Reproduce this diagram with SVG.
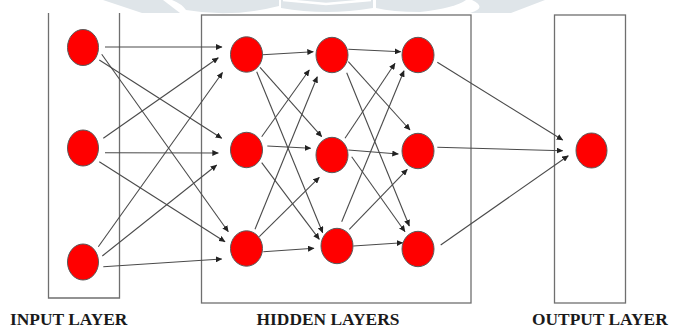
<svg xmlns="http://www.w3.org/2000/svg" width="673" height="329" viewBox="0 0 673 329">
  <style>
    .box { fill: none; stroke: #6f6f6f; stroke-width: 1.3; }
    .node { fill: #ff0000; stroke: #5a5a5a; stroke-width: 1; }
    .edge { fill: none; stroke: #4a4a4a; stroke-width: 1.1; marker-end: url(#arrow); }
    .label { font-family: "Liberation Serif", "Times New Roman", serif; font-weight: bold; font-size: 17.4px; fill: #1a1a1a; }
    .wm { fill: #dfe5e9; }
  </style>
  <defs>
    <marker id="arrow" markerUnits="userSpaceOnUse" markerWidth="7" markerHeight="6" refX="6" refY="3" orient="auto">
      <path d="M0,0 L6.5,3 L0,6 Z" fill="#222"/>
    </marker>
  </defs>

  <rect width="673" height="329" fill="#ffffff"/>

  <!-- faint backdrop emblem along the top edge -->
  <g id="emblem">
    <path class="wm" d="M103,0 H163 L180,13 H142 Z"/>
    <path class="wm" d="M172,0 H279 V6 Q232,18 186,10 Q182,4 172,0 Z"/>
    <path class="wm" d="M281,0 H373 V8 Q326,16 281,8 Z"/>
    <path d="M283,0 L326,4 L371,0" fill="none" stroke="#ffffff" stroke-width="2.5"/>
    <path class="wm" d="M376,0 H466 Q455,8 420,12 Q392,12 376,8 Z"/>
    <path class="wm" d="M472,0 H545 L511,13 H470 Q488,8 472,0 Z"/>
  </g>

  <!-- layer frames -->
  <g id="input-layer-frame">
    <path class="box" d="M48.5,13 V298 H119.5 V13"/>
  </g>
  <g id="hidden-layer-frame">
    <rect class="box" x="201.5" y="15" width="269.5" height="288"/>
  </g>
  <g id="output-layer-frame">
    <rect class="box" x="554.5" y="15" width="71" height="288"/>
  </g>

  <!-- connectors -->
  <g id="connectors">
    <!-- input -> hidden 1 -->
    <line class="edge" x1="105" y1="47" x2="222" y2="47"/>
    <line class="edge" x1="99.3" y1="60" x2="221.7" y2="138.3"/>
    <line class="edge" x1="101.7" y1="54.3" x2="228.3" y2="231.7"/>
    <line class="edge" x1="103.3" y1="138.3" x2="218.3" y2="57.7"/>
    <line class="edge" x1="105" y1="152.7" x2="218.3" y2="153"/>
    <line class="edge" x1="99.3" y1="161.7" x2="225" y2="241.7"/>
    <line class="edge" x1="98.3" y1="246.7" x2="222.5" y2="72.5"/>
    <line class="edge" x1="102.3" y1="256" x2="216.7" y2="165"/>
    <line class="edge" x1="103.3" y1="266.7" x2="221.7" y2="259"/>

    <!-- hidden 1 -> hidden 2 -->
    <line class="edge" x1="258.3" y1="55" x2="313.3" y2="51.7"/>
    <line class="edge" x1="260" y1="67.3" x2="321.7" y2="136.7"/>
    <line class="edge" x1="256.7" y1="71.7" x2="322.7" y2="232.7"/>
    <line class="edge" x1="261.7" y1="136.7" x2="309.3" y2="70"/>
    <line class="edge" x1="267.3" y1="146" x2="310.7" y2="148.3"/>
    <line class="edge" x1="261.7" y1="162.7" x2="319.3" y2="239.3"/>
    <line class="edge" x1="255" y1="229.3" x2="317.3" y2="76.7"/>
    <line class="edge" x1="259.3" y1="236.7" x2="319.3" y2="177.3"/>
    <line class="edge" x1="263.3" y1="251.7" x2="314" y2="248.3"/>

    <!-- hidden 2 -> hidden 3 -->
    <line class="edge" x1="348.3" y1="49.3" x2="400.7" y2="51.7"/>
    <line class="edge" x1="348.3" y1="61.7" x2="410" y2="130"/>
    <line class="edge" x1="346.7" y1="72.7" x2="409.3" y2="226"/>
    <line class="edge" x1="345" y1="138.3" x2="395" y2="63.3"/>
    <line class="edge" x1="348.3" y1="150" x2="398.3" y2="154"/>
    <line class="edge" x1="351.7" y1="156.7" x2="405" y2="231.7"/>
    <line class="edge" x1="341.7" y1="221.7" x2="404" y2="70.7"/>
    <line class="edge" x1="349.3" y1="229.3" x2="407.3" y2="169.3"/>
    <line class="edge" x1="353.3" y1="246" x2="402.7" y2="242.7"/>

    <!-- hidden 3 -> output -->
    <line class="edge" x1="437.3" y1="62.3" x2="562.7" y2="140"/>
    <line class="edge" x1="437.3" y1="147.3" x2="562.7" y2="150.7"/>
    <line class="edge" x1="440.7" y1="245" x2="568.3" y2="155.7"/>
  </g>

  <!-- input layer -->
  <g id="input-1"><ellipse class="node" cx="83" cy="47.5" rx="15.5" ry="18"/></g>
  <g id="input-2"><ellipse class="node" cx="83" cy="148" rx="15.5" ry="18"/></g>
  <g id="input-3"><ellipse class="node" cx="83" cy="262" rx="15.5" ry="18"/></g>

  <!-- hidden layer 1 -->
  <g id="hidden-1-1"><ellipse class="node" cx="246.5" cy="54.5" rx="16" ry="17.7"/></g>
  <g id="hidden-1-2"><ellipse class="node" cx="246.5" cy="150" rx="16" ry="17.7"/></g>
  <g id="hidden-1-3"><ellipse class="node" cx="246.5" cy="248.5" rx="16" ry="17.7"/></g>

  <!-- hidden layer 2 -->
  <g id="hidden-2-1"><ellipse class="node" cx="332" cy="55" rx="16" ry="17.7"/></g>
  <g id="hidden-2-2"><ellipse class="node" cx="332" cy="155" rx="16" ry="17.7"/></g>
  <g id="hidden-2-3"><ellipse class="node" cx="337" cy="246" rx="16" ry="17.7"/></g>

  <!-- hidden layer 3 -->
  <g id="hidden-3-1"><ellipse class="node" cx="418" cy="55" rx="16" ry="17.7"/></g>
  <g id="hidden-3-2"><ellipse class="node" cx="418" cy="151" rx="16" ry="17.7"/></g>
  <g id="hidden-3-3"><ellipse class="node" cx="418" cy="249" rx="16" ry="17.7"/></g>

  <!-- output layer -->
  <g id="output-1"><ellipse class="node" cx="591.5" cy="150.5" rx="15.5" ry="17.5"/></g>

  <!-- captions -->
  <g id="captions">
    <text class="label" x="10" y="325">INPUT LAYER</text>
    <text class="label" x="328" y="325" text-anchor="middle">HIDDEN LAYERS</text>
    <text class="label" x="532" y="325">OUTPUT LAYER</text>
  </g>
</svg>
